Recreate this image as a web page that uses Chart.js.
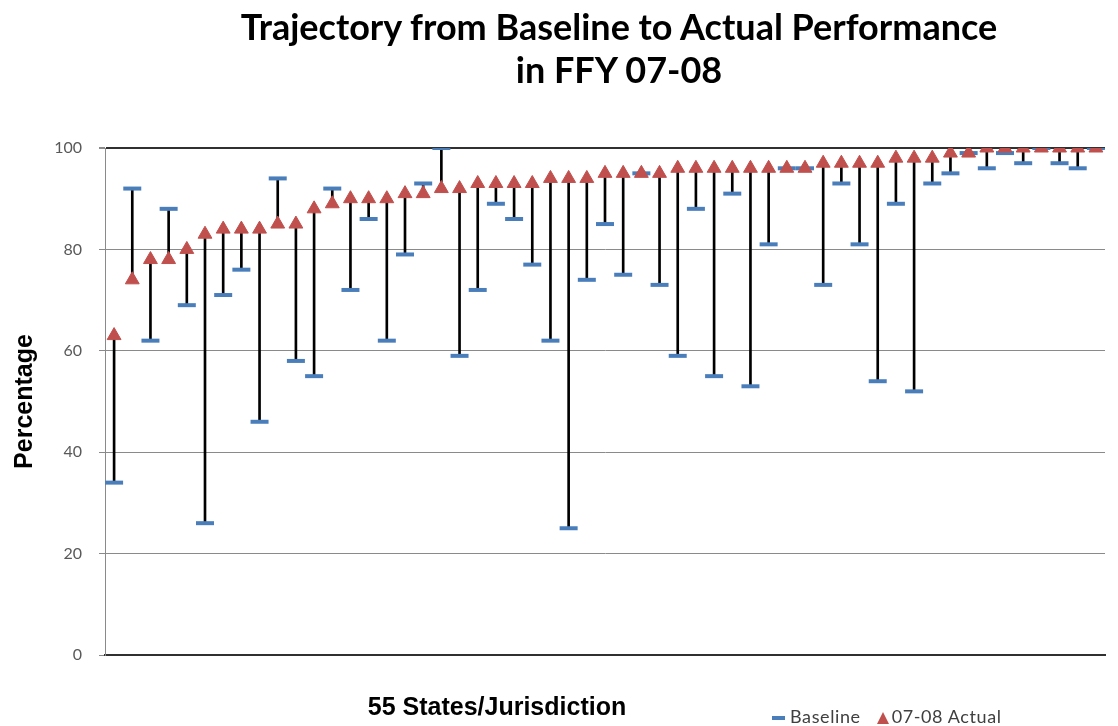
<!DOCTYPE html>
<html lang="en">
<head>
    <meta charset="UTF-8">
    <title>Trajectory from Baseline to Actual Performance</title>
    <script src="https://cdn.jsdelivr.net/npm/chart.js@4.4.1/dist/chart.umd.min.js"></script>
    <style>
        body {margin: 0; background: #fff;}
        #wrap {position: relative; width: 1118px; height: 726px; overflow: hidden;}
        canvas {display: block;}
        #title {position: absolute; top: 5px; left: 619px; transform: translateX(-50%);
            font: bold 36px Lato, sans-serif; line-height: 43px; text-align: center; white-space: nowrap; color: #000;}
        #xtitle {position: absolute; top: 691px; left: 497px; transform: translateX(-50%);
            font: bold 25px "Liberation Sans", Arial, sans-serif; line-height: 30px; white-space: nowrap; color: #000;}
        #legend {position: absolute; top: 705px; left: 772px; font: 18px Lato, sans-serif; letter-spacing: 0.6px;
            line-height: 22px; color: #404040; white-space: nowrap;}
        .dash {display: inline-block; width: 13px; height: 4px; background: #4A7EBB; vertical-align: middle; margin-right: 5px;}
        .tri {display: inline-block; width: 0; height: 0; border-left: 6px solid transparent; border-right: 6px solid transparent;
            border-bottom: 12px solid #C0504D; vertical-align: -1px; margin-left: 16px; margin-right: 3px;}
    </style>
</head>
<body>
<div id="wrap">
    <div id="title">Trajectory from Baseline to Actual Performance<br>in FFY 07-08</div>
    <canvas id="chart" width="1118" height="726"></canvas>
    <div id="xtitle">55 States/Jurisdiction</div>
    <div id="legend"><span class="dash"></span>Baseline<span class="tri"></span>07-08 Actual</div>
</div>

<script>
    // one entry per state/jurisdiction, sorted by actual performance
    const states = Array.from({length: 55}, (_, i) => 'State ' + (i + 1));

    const baseline = [34, 92, 62, 88, 69, 26, 71, 76, 46, 94,
                      58, 55, 92, 72, 86, 62, 79, 93, 100, 59,
                      72, 89, 86, 77, 62, 25, 74, 85, 75, 95,
                      73, 59, 88, 55, 91, 53, 81, 96, 96, 73,
                      93, 81, 54, 89, 52, 93, 95, 99, 96, 99,
                      97, 100, 97, 96, 100];

    const actual = [63, 74, 78, 78, 80, 83, 84, 84, 84, 85,
                    85, 88, 89, 90, 90, 90, 91, 91, 92, 92,
                    93, 93, 93, 93, 94, 94, 94, 95, 95, 95,
                    95, 96, 96, 96, 96, 96, 96, 96, 96, 97,
                    97, 97, 97, 98, 98, 98, 99, 99, 100, 100,
                    100, 100, 100, 100, 100];

    const yTicks = [0, 20, 40, 60, 80, 100];

    // span between baseline and actual, drawn as a thin floating bar
    const spans = baseline.map((b, i) => [b, actual[i]]);

    const ctx = document.getElementById('chart');
    const chart = new Chart(ctx, {
        type: 'bar',
        data: {
            labels: states,
            datasets: [{
                label: 'change',
                data: spans,
                backgroundColor: '#000',
                barThickness: 2,
                order: 3
            }, {
                type: 'line',
                label: 'Baseline',
                data: baseline,
                showLine: false,
                pointStyle: 'line',
                pointRadius: 9,
                pointHoverRadius: 9,
                pointBorderWidth: 4,
                pointHoverBorderWidth: 4,
                borderColor: '#4A7EBB',
                pointBorderColor: '#4A7EBB',
                order: 2
            }, {
                type: 'line',
                label: '07-08 Actual',
                data: actual,
                showLine: false,
                pointStyle: 'triangle',
                pointRadius: 8,
                pointHoverRadius: 8,
                pointBackgroundColor: '#C0504D',
                pointBorderColor: '#C0504D',
                pointBorderWidth: 1,
                order: 1
            }]
        },
        options: {
            responsive: false,
            animation: false,
            layout: {padding: {top: 148, left: 8, right: 3, bottom: 0}},
            plugins: {
                legend: {display: false},
                title: {display: false},
                tooltip: {enabled: false}
            },
            scales: {
                x: {
                    ticks: {display: false},
                    grid: {display: false},
                    border: {display: true, color: '#303030', width: 2},
                    afterFit: (s) => { s.height = 71; }
                },
                y: {
                    min: 0,
                    max: 100,
                    afterBuildTicks: (s) => { s.ticks = yTicks.map(v => ({value: v})); },
                    ticks: {
                        padding: 17,
                        color: '#595959',
                        font: {family: 'Lato', size: 16}
                    },
                    grid: {
                        color: (c) => (c.tick && (c.tick.value === 100 || c.tick.value === 0)) ? '#303030' : '#8a8a8a',
                        lineWidth: (c) => (c.tick && c.tick.value === 100) ? 2 : 1,
                        tickColor: '#8a8a8a',
                        tickLength: 6
                    },
                    border: {color: '#8a8a8a', width: 1},
                    title: {
                        display: true,
                        text: 'Percentage',
                        color: '#000',
                        font: {family: 'Liberation Sans', size: 25, weight: 'bold'},
                        padding: {top: 2, bottom: 0}
                    },
                    afterFit: (s) => { s.width = 97; }
                }
            }
        }
    });
</script>
</body>
</html>
